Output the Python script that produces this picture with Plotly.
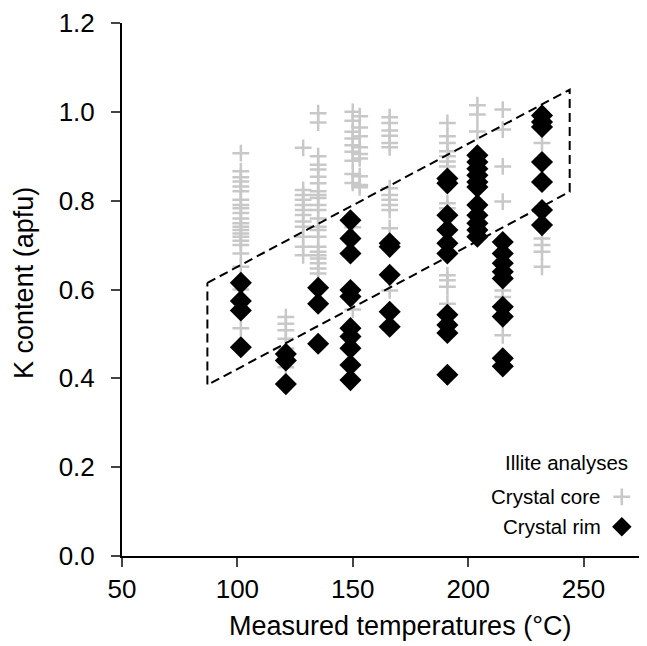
import plotly.graph_objects as go

# Crystal core analyses (grey crosses): temperature of each column and K values
core_temps = [101.5, 121, 128.5, 135, 150, 153, 166, 191, 204, 215, 232]
core_values = [
    [0.907, 0.866, 0.853, 0.843, 0.832, 0.821, 0.802, 0.79, 0.783, 0.772, 0.76,
     0.749, 0.741, 0.734, 0.726, 0.719, 0.71, 0.70, 0.681, 0.651, 0.60, 0.513],
    [0.538, 0.523, 0.508, 0.489, 0.467, 0.448, 0.425],
    [0.919, 0.824, 0.813, 0.802, 0.79, 0.779, 0.768, 0.753, 0.741, 0.719, 0.696, 0.677],
    [0.997, 0.976, 0.90, 0.881, 0.87, 0.854, 0.839, 0.821, 0.813, 0.806, 0.79, 0.779,
     0.76, 0.741, 0.734, 0.719, 0.696, 0.685, 0.677, 0.67, 0.659, 0.647, 0.636],
    [1.0, 0.98, 0.955, 0.94, 0.925, 0.91, 0.89, 0.86, 0.84, 0.74, 0.555],
    [0.99, 0.965, 0.945, 0.92, 0.905, 0.895, 0.855, 0.835, 0.83],
    [0.988, 0.975, 0.958, 0.946, 0.93, 0.92, 0.828, 0.813, 0.802, 0.79, 0.779, 0.738, 0.598],
    [0.975, 0.945, 0.93, 0.911, 0.90, 0.888, 0.877, 0.794, 0.783, 0.632, 0.621, 0.606, 0.568],
    [1.015, 0.994, 0.956, 0.74, 0.72],
    [1.005, 0.96, 0.877, 0.798, 0.598, 0.583, 0.497],
    [0.93, 0.715, 0.70, 0.685, 0.651],
]

# Crystal rim analyses (black diamonds)
rim_temps = [101.5, 121, 135, 149, 166, 191, 204, 215, 232]
rim_values = [
    [0.615, 0.574, 0.553, 0.47],
    [0.455, 0.44, 0.387],
    [0.604, 0.568, 0.478],
    [0.756, 0.715, 0.681, 0.599, 0.584, 0.513, 0.494, 0.468, 0.43, 0.396],
    [0.704, 0.696, 0.633, 0.55, 0.516],
    [0.85, 0.839, 0.767, 0.734, 0.704, 0.681, 0.543, 0.52, 0.502, 0.408],
    [0.902, 0.887, 0.872, 0.857, 0.842, 0.831, 0.79, 0.767, 0.749, 0.734, 0.719],
    [0.707, 0.681, 0.659, 0.64, 0.625, 0.561, 0.539, 0.445, 0.427],
    [0.992, 0.977, 0.966, 0.887, 0.842, 0.779, 0.745],
]

# Dashed envelope (parallelogram) corners
env_x = [87, 244, 244, 87, 87]
env_y = [0.615, 1.05, 0.82, 0.385, 0.615]

x_ticks = [50, 100, 150, 200, 250]
y_ticks = [0.0, 0.2, 0.4, 0.6, 0.8, 1.0, 1.2]
y_ticklabels = ["0.0", "0.2", "0.4", "0.6", "0.8", "1.0", "1.2"]

x_title = "Measured temperatures (°C)"
y_title = "K content (apfu)"
legend_title = "Illite analyses"
legend_names = ["Crystal core", "Crystal rim"]

core_x, core_y = [], []
for t, vals in zip(core_temps, core_values):
    core_x += [t] * len(vals)
    core_y += vals
rim_x, rim_y = [], []
for t, vals in zip(rim_temps, rim_values):
    rim_x += [t] * len(vals)
    rim_y += vals

FONT = "Liberation Sans, Arial, sans-serif"
GREY = "#c8c8c8"

fig = go.Figure()
fig.add_trace(go.Scatter(
    x=core_x, y=core_y, mode="markers", name=legend_names[0], showlegend=False,
    marker=dict(symbol="cross-thin", size=12, line=dict(color=GREY, width=2.5), color=GREY),
))
fig.add_trace(go.Scatter(
    x=env_x, y=env_y, mode="lines", showlegend=False,
    line=dict(color="black", width=2, dash="9px,5px"),
))
fig.add_trace(go.Scatter(
    x=rim_x, y=rim_y, mode="markers", name=legend_names[1], showlegend=False,
    marker=dict(symbol="diamond", size=17, color="black", line=dict(width=0)),
))

# legend symbols on an overlay axis spanning the plot area
fig.add_trace(go.Scatter(
    x=[0.952], y=[0.111], xaxis="x2", yaxis="y2", mode="markers", showlegend=False,
    marker=dict(symbol="cross-thin", size=12, line=dict(color=GREY, width=2.5)),
))
fig.add_trace(go.Scatter(
    x=[0.952], y=[0.055], xaxis="x2", yaxis="y2", mode="markers", showlegend=False,
    marker=dict(symbol="diamond", size=15, color="black", line=dict(width=0)),
))

annots = [
    dict(text=legend_title, x=0.967, y=0.175),
    dict(text=legend_names[0], x=0.914, y=0.111),
    dict(text=legend_names[1], x=0.916, y=0.055),
]
for a in annots:
    fig.add_annotation(xref="paper", yref="paper", xanchor="right", yanchor="middle",
                       showarrow=False, font=dict(family=FONT, size=20.5, color="black"), **a)

# axis titles
fig.add_annotation(xref="paper", yref="paper", x=0.529, y=-0.132, text=x_title,
                   showarrow=False, xanchor="center", yanchor="middle",
                   font=dict(family=FONT, size=27, color="black"))
fig.add_annotation(xref="paper", yref="paper", x=-0.187, y=0.512, text=y_title,
                   showarrow=False, xanchor="center", yanchor="middle", textangle=-90,
                   font=dict(family=FONT, size=27, color="black"))

fig.update_layout(
    width=639, height=638,
    margin=dict(l=114.3, r=0, t=14.7, b=89.5),
    paper_bgcolor="white", plot_bgcolor="white",
    font=dict(family=FONT, color="black"),
    xaxis=dict(
        range=[50, 277.5], tickvals=x_ticks, ticks="outside", ticklen=9, tickwidth=2,
        showline=True, linecolor="black", linewidth=2, showgrid=False, zeroline=False,
        tickfont=dict(size=26),
    ),
    yaxis=dict(
        range=[0, 1.2], tickvals=y_ticks, ticktext=y_ticklabels, ticks="outside",
        ticklen=9, tickwidth=2, showline=True, linecolor="black", linewidth=2,
        showgrid=False, zeroline=False, tickfont=dict(size=26), ticklabelstandoff=11,
    ),
    xaxis2=dict(range=[0, 1], overlaying="x", visible=False, domain=[0, 1]),
    yaxis2=dict(range=[0, 1], overlaying="y", visible=False, anchor="x2"),
)

fig.write_html("out.html")
